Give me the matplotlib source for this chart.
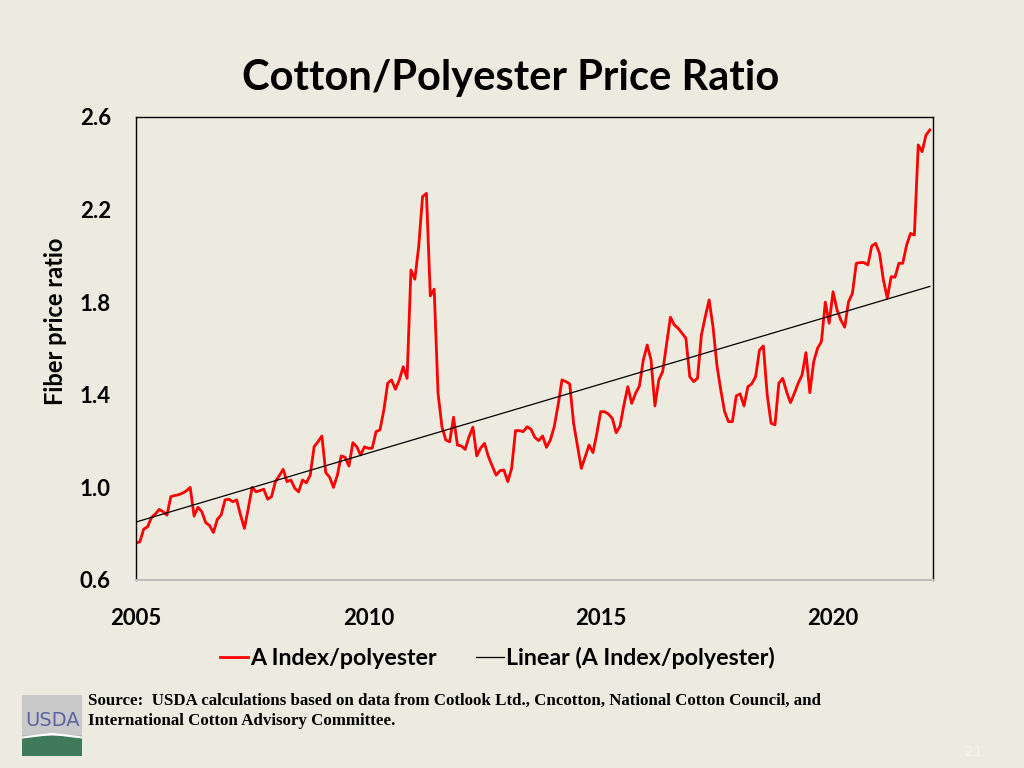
import numpy as np
import matplotlib
matplotlib.use("Agg")
import matplotlib.pyplot as plt
from matplotlib.patches import Rectangle

# monthly A Index / polyester ratio, Jan 2005 - Feb 2022
ratio = [
    0.76, 0.765, 0.82, 0.83, 0.87, 0.885, 0.905, 0.895, 0.88, 0.96, 0.965, 0.968,   # 2005
    0.975, 0.985, 1.0, 0.876, 0.914, 0.895, 0.848, 0.835, 0.805, 0.862, 0.881, 0.946,  # 2006
    0.949, 0.938, 0.946, 0.88, 0.823, 0.91, 1.0, 0.981, 0.986, 0.992, 0.949, 0.96,  # 2007
    1.025, 1.05, 1.078, 1.025, 1.032, 0.996, 0.981, 1.032, 1.02, 1.053, 1.176, 1.197,  # 2008
    1.222, 1.064, 1.044, 1.0, 1.053, 1.136, 1.13, 1.092, 1.193, 1.176, 1.14, 1.175,  # 2009
    1.169, 1.169, 1.241, 1.248, 1.334, 1.45, 1.464, 1.424, 1.464, 1.521, 1.471, 1.939,  # 2010
    1.899, 2.04, 2.256, 2.27, 1.827, 1.856, 1.406, 1.262, 1.205, 1.197, 1.303, 1.183,  # 2011
    1.179, 1.164, 1.219, 1.26, 1.136, 1.17, 1.19, 1.133, 1.092, 1.053, 1.072, 1.075,  # 2012
    1.025, 1.082, 1.245, 1.245, 1.241, 1.262, 1.251, 1.216, 1.202, 1.222, 1.173, 1.205,  # 2013
    1.262, 1.356, 1.464, 1.457, 1.447, 1.277, 1.18, 1.082, 1.133, 1.183, 1.15, 1.233,  # 2014
    1.327, 1.327, 1.317, 1.298, 1.236, 1.265, 1.356, 1.435, 1.363, 1.406, 1.438, 1.55,  # 2015
    1.615, 1.55, 1.352, 1.464, 1.5, 1.619, 1.735, 1.702, 1.687, 1.666, 1.644, 1.478,  # 2016
    1.457, 1.471, 1.658, 1.737, 1.81, 1.694, 1.529, 1.421, 1.327, 1.284, 1.284, 1.395,  # 2017
    1.404, 1.352, 1.435, 1.447, 1.478, 1.593, 1.611, 1.399, 1.277, 1.27, 1.45, 1.471,  # 2018
    1.413, 1.366, 1.406, 1.45, 1.486, 1.582, 1.409, 1.543, 1.601, 1.63, 1.8, 1.709,  # 2019
    1.845, 1.769, 1.723, 1.692, 1.802, 1.838, 1.968, 1.971, 1.971, 1.961, 2.043, 2.054,  # 2020
    2.011, 1.896, 1.817, 1.91, 1.908, 1.968, 1.968, 2.047, 2.097, 2.09, 2.479, 2.45,  # 2021
    2.522, 2.544,  # 2022
]
start_year = 2005
x_ticks = [2005, 2010, 2015, 2020]
y_ticks = [0.6, 1.0, 1.4, 1.8, 2.2, 2.6]

bg = "#EDEAE0"
years = start_year + np.arange(len(ratio)) / 12.0
ratio = np.array(ratio)

# excel style linear trendline
slope, icpt = np.polyfit(np.arange(1, len(ratio) + 1), ratio, 1)
trend = icpt + slope * np.arange(1, len(ratio) + 1)

fig = plt.figure(figsize=(10.24, 7.68), dpi=100, facecolor=bg)
ax = fig.add_axes([0.1328, 0.2448, 0.7783, 0.6029], facecolor=bg)

ax.plot(years, ratio, color="#FF0000", lw=2.0, label="A Index/polyester")
ax.plot(years, trend, color="black", lw=0.9, label="Linear (A Index/polyester)")

ax.set_xlim(2005, 2022.15)
ax.set_ylim(0.6, 2.6)
ax.set_xticks(x_ticks)
ax.set_yticks(y_ticks)
ax.set_yticklabels(["%.1f" % v for v in y_ticks])
ax.tick_params(axis="y", length=0, pad=18)
ax.tick_params(axis="x", length=0, pad=20)
for lab in ax.get_xticklabels() + ax.get_yticklabels():
    lab.set_fontfamily("Lato")
    lab.set_fontweight("bold")
    lab.set_fontsize(16)

for s in ["left", "top", "right"]:
    ax.spines[s].set_color("black")
    ax.spines[s].set_linewidth(1.0)
ax.spines["bottom"].set_color("#BDBDBD")
ax.spines["bottom"].set_linewidth(1.5)

ax.set_ylabel("Fiber price ratio", fontfamily="Lato", fontweight="bold", fontsize=17)
ax.yaxis.set_label_coords(-0.087, 0.558)

fig.text(0.499, 0.898, "Cotton/Polyester Price Ratio", ha="center", va="center",
         fontfamily="Lato", fontweight="bold", fontsize=30)

fig.legend(loc="center", bbox_to_anchor=(0.486, 0.143), ncol=2, frameon=False,
           prop={"family": "Lato", "weight": "bold", "size": 16.7},
           handlelength=1.2, handletextpad=0.1, columnspacing=1.7)

fig.text(0.086, 0.074, "Source:  USDA calculations based on data from Cotlook Ltd., Cncotton, National Cotton Council, and\nInternational Cotton Advisory Committee.",
         ha="left", va="center", fontfamily="Liberation Serif", fontweight="bold", fontsize=12.2,
         linespacing=1.35)

# USDA logo
lg = fig.add_axes([0.0215, 0.016, 0.059, 0.079])
lg.set_xlim(0, 1)
lg.set_ylim(0, 1)
lg.axis("off")
lg.add_patch(Rectangle((0, 0), 1, 1, color="#C9C9C9"))
lg.add_patch(Rectangle((0, 0), 1, 0.33, color="#3F7A5B"))
lg.text(0.5, 0.58, "USDA", ha="center", va="center", color="#5C63A3",
        fontfamily="Liberation Sans Narrow", fontsize=14)
lg.plot([0, 0.5, 1], [0.3, 0.36, 0.3], color="white", lw=1.5)

fig.text(0.951, 0.021, "21", color="#F7F5EE", fontsize=10, ha="center", va="center")

plt.savefig("out.png", dpi=100, facecolor=bg)
